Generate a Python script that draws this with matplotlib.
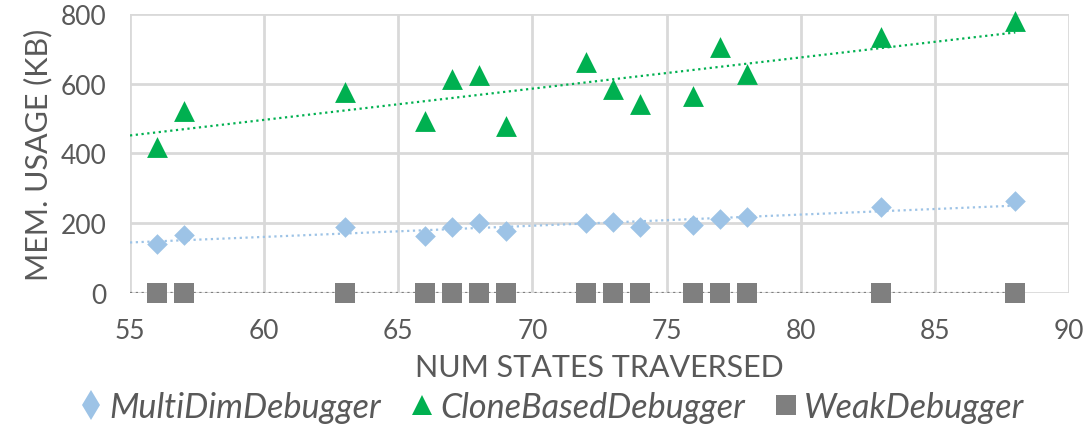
import numpy as np
import matplotlib.pyplot as plt
from matplotlib.lines import Line2D

plt.rcParams['font.family'] = ['Lato', 'DejaVu Sans']

# datos
states = [56, 57, 63, 66, 67, 68, 69, 72, 73, 74, 76, 77, 78, 83, 88]
multi_dim = [140, 166, 189, 163, 188, 200, 177, 200, 203, 189, 195, 211, 217, 246, 263]
clone_based = [420, 523, 577, 494, 614, 626, 480, 663, 586, 543, 566, 706, 629, 734, 780]
weak = [0, 0, 0, 0, 0, 0, 0, 0, 0, 0, 0, 0, 0, 0, 0]

x_ticks = [55, 60, 65, 70, 75, 80, 85, 90]
y_ticks = [0, 200, 400, 600, 800]

c_multi = '#9dc3e6'
c_clone = '#00b050'
c_weak = '#7f7f7f'
c_text = '#595959'

fig = plt.figure(figsize=(10.87, 4.27), dpi=100)
ax = fig.add_axes([0.1196, 0.3115, 0.8638, 0.6534])

x = np.array(states)
xt = np.array([55, max(states)])
# lineas de tendencia (ajuste lineal)
for vals, col in [(multi_dim, c_multi), (clone_based, c_clone), (weak, c_weak)]:
    m, b = np.polyfit(x, vals, 1)
    ax.plot(xt, m * xt + b, color=col, lw=1.6, ls=(0, (1, 1.6)), zorder=3)

ax.scatter(states, weak, marker='s', s=14.5**2, color=c_weak, zorder=4, linewidths=0, clip_on=False)
ax.scatter(states, multi_dim, marker='D', s=10.5**2, color=c_multi, zorder=4, linewidths=0, clip_on=False)
ax.scatter(states, clone_based, marker='^', s=15**2, color=c_clone, zorder=4, linewidths=0, clip_on=False)

ax.set_xlim(55, 90)
ax.set_ylim(0, 800)
ax.set_xticks(x_ticks)
ax.set_yticks(y_ticks)
ax.grid(True, color='#d9d9d9', lw=2)
ax.set_axisbelow(True)
for s in ax.spines.values():
    s.set_visible(False)
ax.tick_params(length=0, labelsize=19, labelcolor=c_text)
ax.tick_params(axis='x', pad=18)
ax.tick_params(axis='y', pad=17)
ax.set_xlabel('NUM STATES TRAVERSED', fontsize=22, color=c_text, labelpad=7)
ax.set_ylabel('MEM. USAGE (KB)', fontsize=22, color=c_text, labelpad=6)

handles = [
    Line2D([], [], ls='none', marker='d', ms=15, color=c_multi, mew=0),
    Line2D([], [], ls='none', marker='^', ms=14, color=c_clone, mew=0),
    Line2D([], [], ls='none', marker='s', ms=15, color=c_weak, mew=0),
]
fig.legend(handles, ['MultiDimDebugger', 'CloneBasedDebugger', 'WeakDebugger'],
           loc='center', bbox_to_anchor=(0.506, 0.045), ncol=3, frameon=False,
           prop={'style': 'italic', 'size': 24.6}, labelcolor=c_text,
           handletextpad=0.08, columnspacing=0.75, handlelength=0.9)

fig.savefig('out.png', dpi=100)
